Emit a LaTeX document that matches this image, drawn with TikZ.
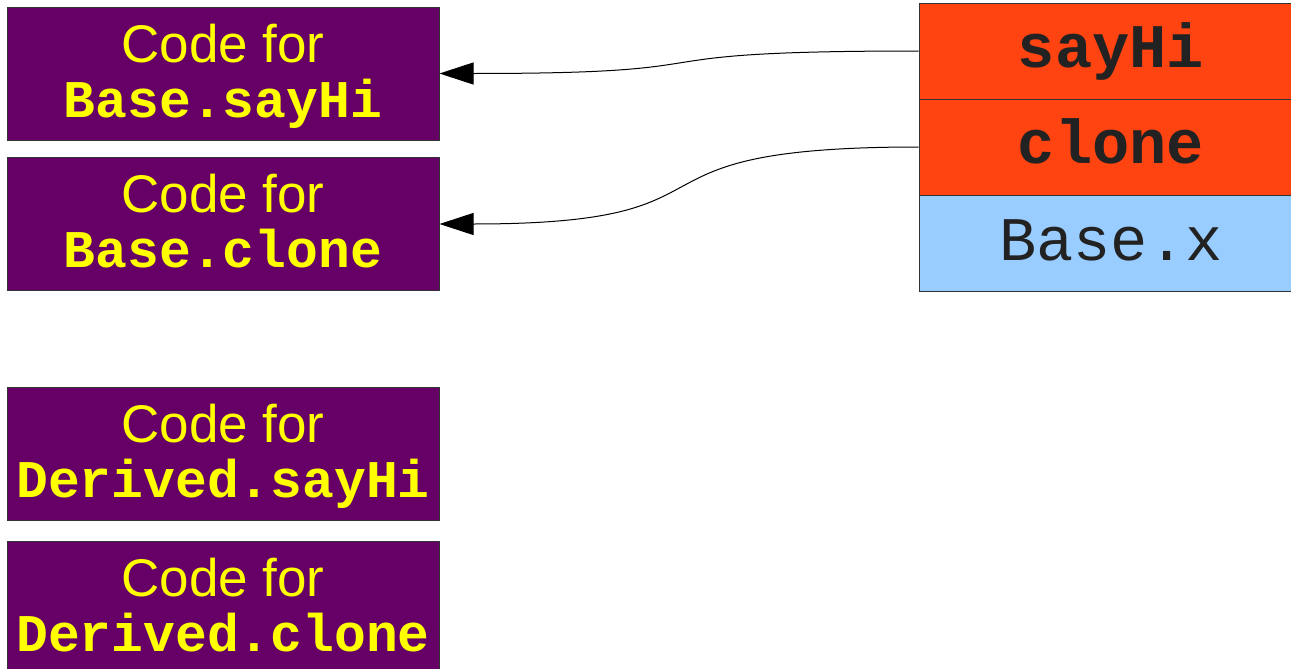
\documentclass[tikz,border=0pt]{standalone}
\usepackage{fontspec}
\setmainfont{Liberation Sans}
\setmonofont{Liberation Mono}
\usetikzlibrary{arrows.meta}
\definecolor{codepurple}{HTML}{660066}
\definecolor{codeyellow}{HTML}{FFFF00}
\definecolor{slotorange}{HTML}{FF4411}
\definecolor{slotblue}{HTML}{99CCFF}
\definecolor{slottext}{HTML}{222222}
\definecolor{edgegray}{HTML}{333333}
\tikzset{
  codebox/.style={draw=edgegray, line width=0.5pt, fill=codepurple, minimum width=216pt, minimum height=66.5pt, inner sep=0pt},
  slotbox/.style={draw=edgegray, line width=0.5pt, minimum width=192pt, minimum height=48pt, inner sep=0pt},
  codelbl/.style={anchor=base, inner sep=0pt, text=codeyellow, font=\fontsize{26.5}{30}\selectfont},
  codename/.style={anchor=base, inner sep=0pt, text=codeyellow, font=\fontsize{26.5}{30}\selectfont\ttfamily\bfseries},
  slotname/.style={anchor=base, inner sep=0pt, text=slottext, font=\fontsize{31}{34}\selectfont\ttfamily\bfseries},
  slotfield/.style={anchor=base, inner sep=0pt, text=slottext, font=\fontsize{31}{34}\selectfont\ttfamily},
  ptr/.style={draw=black, line width=0.5pt, -{Triangle[length=17pt,width=11pt]}}
}
\begin{document}
\begin{tikzpicture}[x=0.5pt,y=-0.5pt]
\useasboundingbox (0,0) rectangle (1291,669);
\clip (0,0) rectangle (1291,669);
% code boxes
\node[codebox] (b1) at (223,73.5) {};
\node[codelbl] (b1a) at (223,62) {Code for};
\node[codename] (b1b) at (223,117) {Base.sayHi};
\node[codebox] (b2) at (223,224) {};
\node[codelbl] (b2a) at (223,212) {Code for};
\node[codename] (b2b) at (223,267) {Base.clone};
\node[codebox] (b3) at (223,454) {};
\node[codelbl] (b3a) at (223,442) {Code for};
\node[codename] (b3b) at (223,497) {Derived.sayHi};
\node[codebox] (b4) at (223,608) {};
\node[codelbl] (b4a) at (223,596) {Code for};
\node[codename] (b4b) at (223,651) {Derived.clone};
% object slots
\node[slotbox, fill=slotorange] (s1) at (1111,51) {};
\node[slotname] (s1t) at (1111,67) {sayHi};
\node[slotbox, fill=slotorange] (s2) at (1111,147) {};
\node[slotname] (s2t) at (1111,163) {clone};
\node[slotbox, fill=slotblue] (s3) at (1111,243) {};
\node[slotfield] (s3t) at (1111,260) {Base.x};
% pointers
\draw[ptr] (s1.west) .. controls (600,51) and (760,73.5) .. (b1.east);
\draw[ptr] (s2.west) .. controls (600,147) and (760,224) .. (b2.east);
\end{tikzpicture}
\end{document}
